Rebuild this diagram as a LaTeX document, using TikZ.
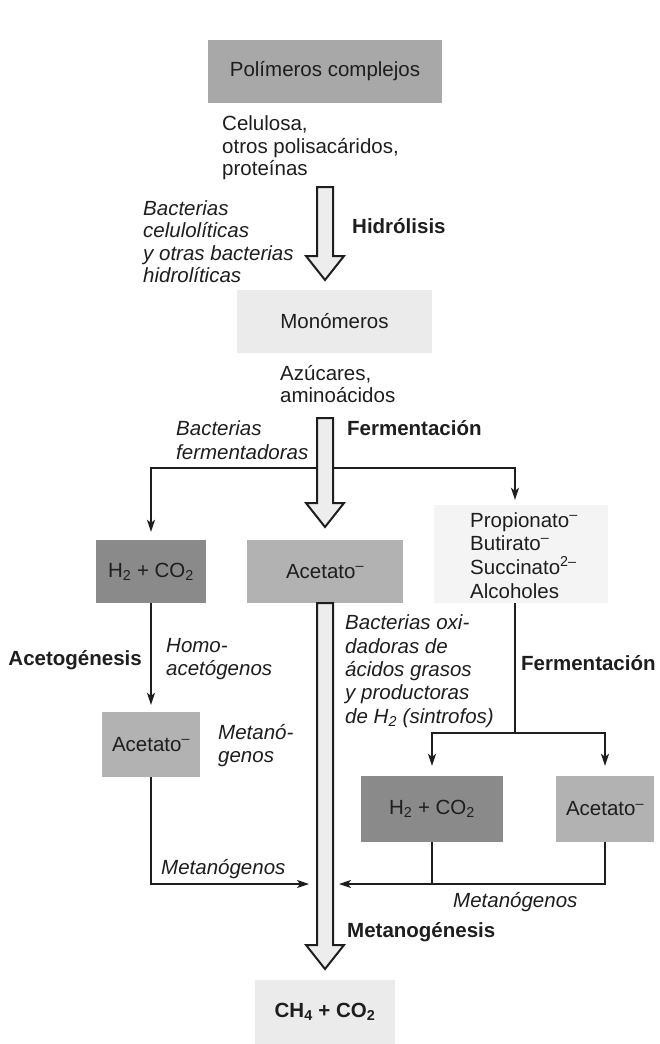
\documentclass[tikz,border=0pt]{standalone}
\usepackage{fontspec}
\setmainfont{Liberation Sans}
\usetikzlibrary{arrows.meta,calc}
\definecolor{ink}{HTML}{1E1E1E}
\definecolor{polyc}{HTML}{A8A8A8}
\definecolor{monoc}{HTML}{EBEBEB}
\definecolor{darkc}{HTML}{8A8A8A}
\definecolor{midc}{HTML}{B2B2B2}
\definecolor{lightc}{HTML}{F4F4F4}
\definecolor{arrowc}{HTML}{EDEDED}
\newcommand\hollowarrow[2]{%
  \draw[harrow] ($(#1)+(-8,0)$) -- ($(#2)+(-8,-24)$) -- ($(#2)+(-19,-24)$) -- (#2)
    -- ($(#2)+(19,-24)$) -- ($(#2)+(8,-24)$) -- ($(#1)+(8,0)$) -- cycle;}
\begin{document}
\begin{tikzpicture}[x=1pt,y=-1pt,
  txt/.style={font=\fontsize{20.5}{23}\selectfont, inner sep=0pt, anchor=base west, text=ink},
  itx/.style={txt, font=\fontsize{20.5}{23}\selectfont\itshape},
  bfx/.style={txt, font=\fontsize{20.5}{23}\selectfont\bfseries},
  box/.style={inner sep=0pt, font=\fontsize{20.5}{23}\selectfont, text=ink},
  conn/.style={draw=ink, line width=1.6pt, -{Stealth[length=12pt,width=8pt,inset=3pt]}},
  plain/.style={draw=ink, line width=1.6pt},
  harrow/.style={draw=ink, line width=2pt, fill=arrowc, line join=miter},
]
\fill[white] (0,0) rectangle (660,1044);
\useasboundingbox (0,0) rectangle (660,1044);

% boxes
\node[box, fill=polyc, minimum width=234, minimum height=63] (poly) at (325,71.5) {Polímeros complejos};
\node[box, fill=monoc, minimum width=195, minimum height=63] (mono) at (334.5,321.5) {Monómeros};
\node[box, fill=darkc, minimum width=110, minimum height=63] (h2a) at (151,571.5) {H\textsubscript{2} + CO\textsubscript{2}};
\node[box, fill=midc, minimum width=156, minimum height=63] (aca) at (325,571.5) {Acetato\textsuperscript{–}};
\node[box, fill=lightc, minimum width=174, minimum height=98] (prop) at (521,554) {};
\node[box, fill=midc, minimum width=98, minimum height=65] (acb) at (151,744.5) {Acetato\textsuperscript{–}};
\node[box, fill=darkc, minimum width=142, minimum height=66] (h2b) at (432,809) {H\textsubscript{2} + CO\textsubscript{2}};
\node[box, fill=midc, minimum width=98, minimum height=66] (acc) at (605,809) {Acetato\textsuperscript{–}};
\node[box, fill=monoc, minimum width=140, minimum height=64] (ch4) at (325,1012) {\bfseries CH\textsubscript{4} + CO\textsubscript{2}};

% text in propionato box
\node[txt] (pr1) at (470,527) {Propionato\textsuperscript{–}};
\node[txt] (pr2) at (470,550) {Butirato\textsuperscript{–}};
\node[txt] (pr3) at (470,574) {Succinato\textsuperscript{2–}};
\node[txt] (pr4) at (470,598) {Alcoholes};

% coordinates
\coordinate (a1s) at (325,187); \coordinate (a1e) at (325,280);
\coordinate (a2s) at (325,418); \coordinate (a2e) at (325,527);
\coordinate (a3e) at (325,969);
\coordinate (fork) at (325,468); \coordinate (forkR) at (515,468);
\coordinate (split) at (515,733);
\coordinate (inL) at (309,884); \coordinate (inR) at (339,884);

% thin connectors
\draw[conn, shorten >=8pt] (fork) -| (h2a.north);
\draw[conn, shorten >=5pt] (fork) -- (forkR) -- (forkR |- prop.north);
\draw[conn, shorten >=7pt] (h2a.south) -- (acb.north);
\draw[plain] (prop.south -| split) -- (split);
\draw[conn, shorten >=10pt] (split) -| (h2b.north);
\draw[conn, shorten >=10pt] (split) -| (acc.north);
\draw[conn] (acb.south) |- (inL);
\draw[conn] (acc.south) |- (inR);
\draw[plain] (h2b.south) -- (h2b.south |- inR);

% hollow arrows
\hollowarrow{a1s}{a1e}
\hollowarrow{a2s}{a2e}
\hollowarrow{aca.south}{a3e}

% labels
\node[txt] (c1) at (222,130) {Celulosa,};
\node[txt] (c2) at (222,153) {otros polisacáridos,};
\node[txt] (c3) at (222,175) {proteínas};
\node[itx] (b1) at (143,215) {Bacterias};
\node[itx] (b2) at (143,237) {celulolíticas};
\node[itx] (b3) at (143,260) {y otras bacterias};
\node[itx] (b4) at (143,282) {hidrolíticas};
\node[bfx] (hid) at (352,233) {Hidrólisis};
\node[txt] (az1) at (280,380) {Azúcares,};
\node[txt] (az2) at (280,402) {aminoácidos};
\node[itx] (bf1) at (176,435) {Bacterias};
\node[itx] (bf2) at (176,459) {fermentadoras};
\node[bfx] (fer1) at (347,435) {Fermentación};
\node[itx] (ho1) at (166,652) {Homo-};
\node[itx] (ho2) at (166,675) {acetógenos};
\node[bfx, anchor=base east] (acg) at (142,665) {Acetogénesis};
\node[itx] (ox1) at (345,629) {Bacterias oxi-};
\node[itx] (ox2) at (345,653) {dadoras de};
\node[itx] (ox3) at (345,676) {ácidos grasos};
\node[itx] (ox4) at (345,699) {y productoras};
\node[itx] (ox5) at (345,723) {de H\textsubscript{2} (sintrofos)};
\node[bfx] (fer2) at (521,670) {Fermentación};
\node[itx] (me1) at (218,739) {Metanó-};
\node[itx] (me2) at (218,762) {genos};
\node[itx] (ml) at (161,874) {Metanógenos};
\node[itx] (mr) at (453,907) {Metanógenos};
\node[bfx] (mg) at (347,937) {Metanogénesis};
\end{tikzpicture}
\end{document}
